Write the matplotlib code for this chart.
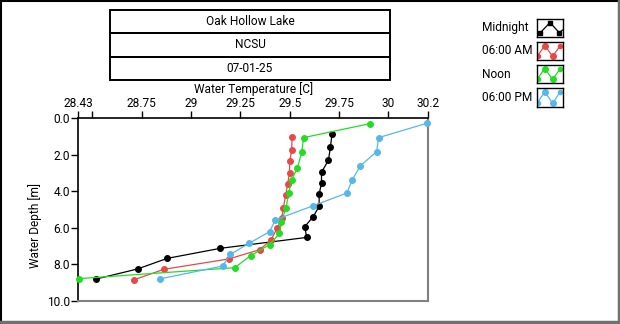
import matplotlib
matplotlib.use("Agg")
import matplotlib.pyplot as plt
from matplotlib.patches import Rectangle
from matplotlib.lines import Line2D

plt.rcParams['font.family'] = ['Roboto', 'DejaVu Sans']
FS = 8.6

W, H = 620, 324

title_lines = ["Oak Hollow Lake", "NCSU", "07-01-25"]
series_names = ["Midnight", "06:00 AM", "Noon", "06:00 PM"]
series_colors = ["#000000", "#e84848", "#22dd22", "#55b8e8"]

midnight_temp = [29.714, 29.706, 29.696, 29.661, 29.661, 29.649, 29.649, 29.618,
                 29.576, 29.586, 29.148, 28.880, 28.730, 28.521]
midnight_depth = [0.88, 1.59, 2.30, 2.96, 3.56, 4.15, 4.83, 5.41, 5.94, 6.53,
                  7.13, 7.68, 8.26, 8.81]

am_temp = [29.512, 29.510, 29.500, 29.499, 29.490, 29.480, 29.468, 29.460,
           29.438, 29.404, 29.349, 29.192, 28.863, 28.713]
am_depth = [1.01, 1.74, 2.36, 2.98, 3.58, 4.20, 4.90, 5.48, 6.01, 6.69, 7.20,
            7.71, 8.28, 8.85]

noon_temp = [29.907, 29.570, 29.561, 29.539, 29.510, 29.494, 29.482, 29.458,
             29.448, 29.398, 29.302, 29.222, 28.433]
noon_depth = [0.29, 1.06, 1.86, 2.71, 3.38, 4.11, 4.90, 5.67, 6.31, 6.93, 7.53,
              8.19, 8.79]

pm_temp = [30.195, 29.950, 29.940, 29.858, 29.817, 29.789, 29.620, 29.428,
           29.398, 29.293, 29.200, 29.160, 28.841]
pm_depth = [0.27, 1.06, 1.83, 2.60, 3.36, 4.10, 4.79, 5.56, 6.22, 6.86, 7.46,
            8.10, 8.81]

x_ticks = [28.43, 28.5, 28.75, 29, 29.25, 29.5, 29.75, 30, 30.2]
x_tick_labels = ["28.43", "", "28.75", "29", "29.25", "29.5", "29.75", "30", "30.2"]
y_ticks = [0, 2, 4, 6, 8, 10]
y_tick_labels = ["0.0", "2.0", "4.0", "6.0", "8.0", "10.0"]


def fx(px):
    return px / W


def fy(py):
    return 1 - py / H


fig = plt.figure(figsize=(W / 100, H / 100), dpi=100)
fig.patch.set_facecolor("white")

# sunken outer frame
fig.add_artist(Line2D([fx(0.5), fx(0.5)], [fy(0), fy(322)], color="black", lw=1.5))
fig.add_artist(Line2D([fx(0), fx(618)], [fy(0.5), fy(0.5)], color="black", lw=1.5))
fig.add_artist(Line2D([fx(618.5), fx(618.5)], [fy(0), fy(324)], color="#707070", lw=2.5))
fig.add_artist(Line2D([fx(0), fx(620)], [fy(321.5), fy(321.5)], color="#707070", lw=2.5))

# title boxes
box_rows = [(10, 33), (33, 57), (57, 80)]
for (top, bot), txt in zip(box_rows, title_lines):
    fig.add_artist(Rectangle((fx(110), fy(bot)), fx(390) - fx(110), fy(top) - fy(bot),
                             fill=False, ec="black", lw=1.4))
    fig.text(fx(250), fy((top + bot) / 2), txt, ha="center", va="center", fontsize=FS)

# main plot
ax = fig.add_axes([fx(78.3), fy(300.7), fx(428) - fx(78.3), fy(118.3) - fy(300.7)])
data = [(midnight_temp, midnight_depth), (am_temp, am_depth),
        (noon_temp, noon_depth), (pm_temp, pm_depth)]
for (t, d), c in zip(data, series_colors):
    ax.plot(t, d, color=c, lw=0.9, marker="o", ms=4.0, mec=c, mfc=c,
            clip_on=False, zorder=3)

ax.set_xlim(28.43, 30.2)
ax.set_ylim(10, 0)
ax.xaxis.tick_top()
ax.xaxis.set_label_position("top")
ax.set_xticks(x_ticks)
ax.set_xticklabels(x_tick_labels)
ax.set_yticks(y_ticks)
ax.set_yticklabels(y_tick_labels)
ax.tick_params(axis="both", direction="out", length=5, width=1, labelsize=FS, pad=1,
               colors="black")
ax.set_xlabel("Water Temperature [C]", fontsize=FS, labelpad=3)
for side in ["top", "left"]:
    ax.spines[side].set_color("black")
    ax.spines[side].set_linewidth(1.2)
for side in ["right", "bottom"]:
    ax.spines[side].set_color("#808080")
    ax.spines[side].set_linewidth(1.5)

fig.text(fx(35), fy(226), "Water Depth [m]", rotation=90, ha="center", va="center",
         fontsize=FS)

# legend
legend_rows = [(19, 37), (42, 60), (65, 83), (88, 107)]
for (top, bot), name, c, i in zip(legend_rows, series_names, series_colors, range(4)):
    fig.text(fx(482), fy((top + bot) / 2), name, ha="left", va="center", fontsize=FS)
    lax = fig.add_axes([fx(537), fy(bot), fx(563) - fx(537), fy(top) - fy(bot)])
    lax.set_xlim(0, 1)
    lax.set_ylim(0, 1)
    lax.set_xticks([])
    lax.set_yticks([])
    for s in lax.spines.values():
        s.set_color("black")
        s.set_linewidth(1.0)
    if i == 0:
        lax.plot([0.0, 0.1, 0.5, 0.85, 1.0], [0.05, 0.2, 0.8, 0.25, 0.4], color=c, lw=0.9)
        lax.plot([0.1, 0.5, 0.85], [0.2, 0.8, 0.25], ls="none", marker="s", ms=3, color=c)
    else:
        lax.plot([0.0, 0.3, 0.6, 0.92], [0.2, 0.8, 0.2, 0.85], color=c, lw=0.9)
        lax.plot([0.3, 0.6], [0.8, 0.2], ls="none", marker="o", ms=4, color=c)
        lax.plot([0.05, 0.9], [0.2, 0.8], ls="none", marker="o", ms=3, color=c)

fig.savefig("out.png", dpi=100)
